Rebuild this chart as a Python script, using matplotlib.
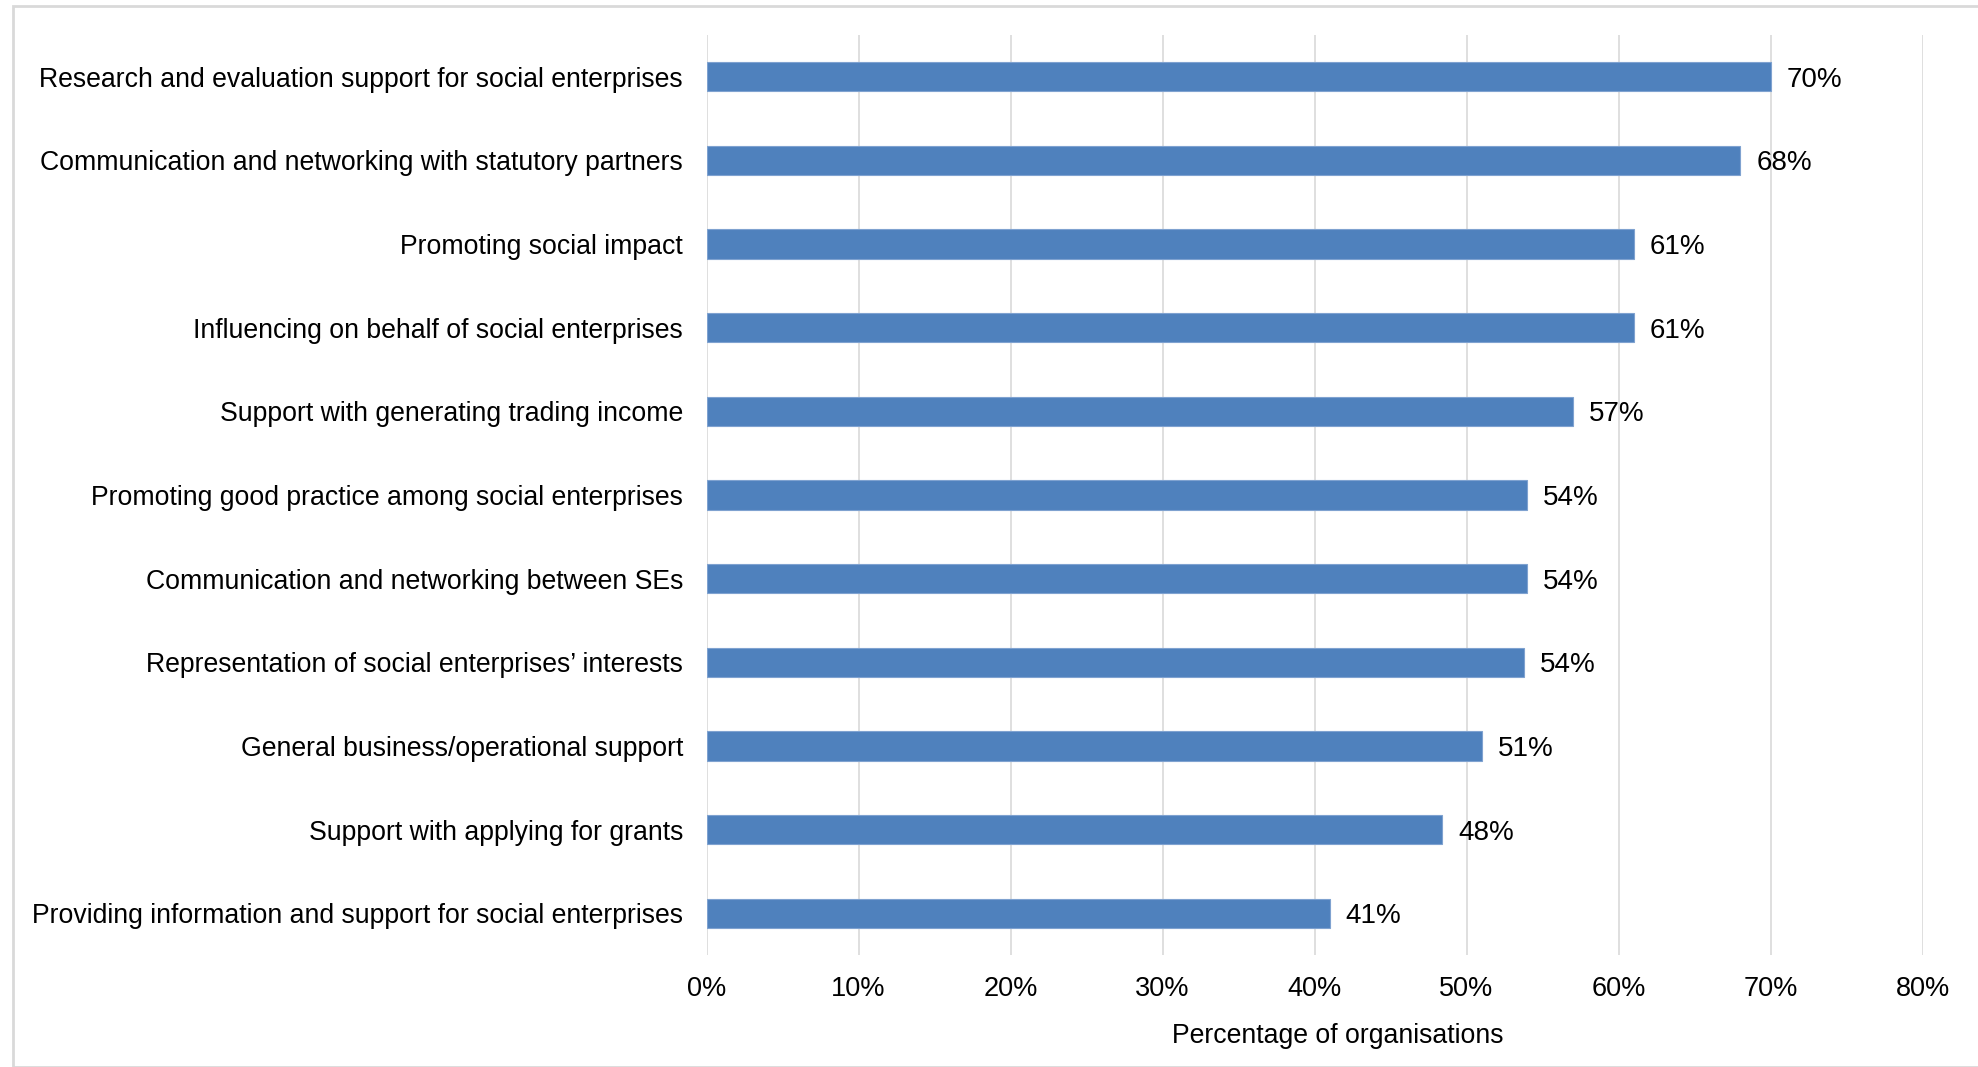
import matplotlib.pyplot as plt
from matplotlib.patches import Rectangle
from matplotlib.ticker import MultipleLocator, FuncFormatter

categories = [
    'Research and evaluation support for social enterprises',
    'Communication and networking with statutory partners',
    'Promoting social impact',
    'Influencing on behalf of social enterprises',
    'Support with generating trading income',
    'Promoting good practice among social enterprises',
    'Communication and networking between SEs',
    'Representation of social enterprises\u2019 interests',
    'General business/operational support',
    'Support with applying for grants',
    'Providing information and support for social enterprises',
]
values = [70.0, 68.0, 61.0, 61.0, 57.0, 54.0, 54.0, 53.8, 51.0, 48.4, 41.0]

plt.rcParams['font.family'] = ['Liberation Sans', 'DejaVu Sans']

fig = plt.figure(figsize=(19.78, 10.67), dpi=100)
ax = fig.add_axes([0.3572, 0.105, 0.6148, 0.8622])

# light frame around the chart area (cut by the image edges)
fig.patches.append(Rectangle((13 / 1978, 0), 2, 1 - 6 / 1067, transform=fig.transFigure,
                             fill=False, edgecolor='#D9D9D9', linewidth=2, zorder=0))

pos = list(range(len(categories)))
ax.barh(pos, values, height=0.35, color='#4F81BD', edgecolor='#7FA2D0', linewidth=0.8, zorder=3)
for p, v in zip(pos, values):
    ax.text(v + 1.05, p, f'{v:.0f}%', va='center_baseline', ha='left', fontsize=20, color='#000000')

ax.set_xlim(0, 80)
ax.set_ylim(len(categories) - 0.5, -0.5)
ax.xaxis.set_major_locator(MultipleLocator(10))
ax.xaxis.set_major_formatter(FuncFormatter(lambda x, _: f'{x:.0f}%'))
ax.set_yticks(pos)
ax.set_yticklabels(categories, fontsize=19.2)
for lbl in ax.get_yticklabels():
    lbl.set_verticalalignment('center_baseline')
ax.tick_params(axis='x', length=0, labelsize=19.5, pad=15)
ax.tick_params(axis='y', length=0, pad=17)
ax.grid(axis='x', color='#D9D9D9', linewidth=1.2, zorder=0)
for s in ax.spines.values():
    s.set_visible(False)
ax.set_xlabel('Percentage of organisations', fontsize=19.2, labelpad=15, x=0.519)

fig.savefig('out.png', dpi=100)
